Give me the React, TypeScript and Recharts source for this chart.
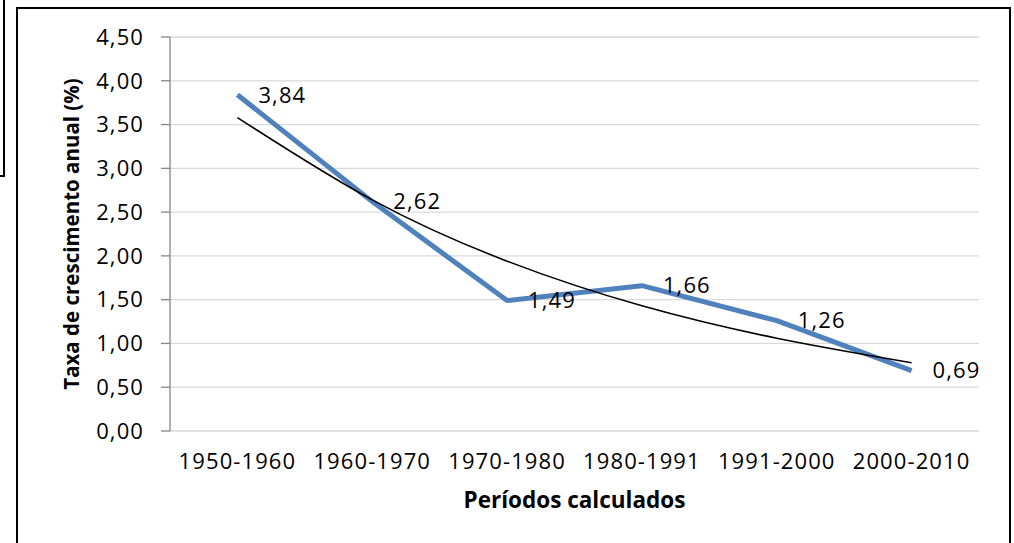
import React from 'react';
import { LineChart, Line, XAxis, YAxis, CartesianGrid, LabelList, Label } from 'recharts';

const periods = ['1950-1960', '1960-1970', '1970-1980', '1980-1991', '1991-2000', '2000-2010'];
const growthRates = [3.84, 2.62, 1.49, 1.66, 1.26, 0.69];
const trendValues = [3.58, 2.64, 1.94, 1.43, 1.06, 0.78];
const yTicks = [0, 0.5, 1, 1.5, 2, 2.5, 3, 3.5, 4, 4.5];
const boundaryTicks = [0, 1, 2, 3, 4, 5, 6];

const data = periods.map((p, i) => ({ period: p, rate: growthRates[i], trend: trendValues[i] }));

const FONT = "'Open Sans', sans-serif";
const fmt = (v: any) => Number(v).toFixed(2).replace('.', ',');
const tickStyle = { fill: '#000', fontFamily: FONT, fontSize: 22, letterSpacing: 1.1 };

export default function App() {
  return (
    <div style={{ position: 'absolute', left: 0, top: 0, width: 1014, height: 543, overflow: 'hidden', background: '#fff' }}>
      <div style={{ position: 'absolute', left: -20, top: -20, width: 25, height: 197, border: '2px solid #000', boxSizing: 'border-box' }} />
      <div style={{ position: 'absolute', left: 16, top: 7, width: 995, height: 600, border: '2px solid #000', boxSizing: 'border-box' }} />
      <div style={{ position: 'absolute', left: 0, top: 0 }}>
        <LineChart width={1014} height={543} data={data} margin={{ top: 37, right: 35, bottom: 31, left: 0 }}>
          <CartesianGrid xAxisId="cat" vertical={false} stroke="#D9D9D9" strokeWidth={1.3} />
          <XAxis
            xAxisId="bounds"
            type="number"
            domain={[0, 6]}
            ticks={boundaryTicks}
            tick={false}
            tickSize={7}
            height={0}
            axisLine={{ stroke: '#868686', strokeWidth: 1.3 }}
            tickLine={{ stroke: '#868686', strokeWidth: 1.3 }}
          />
          <XAxis
            xAxisId="cat"
            dataKey="period"
            scale="band"
            height={81}
            axisLine={false}
            tickLine={false}
            tickSize={0}
            tickMargin={22}
            interval={0}
            tick={tickStyle}
          >
            <Label
              value="Períodos calculados"
              position="bottom"
              offset={-20}
              style={{ fill: '#000', fontFamily: FONT, fontSize: 22.5, fontWeight: 700 }}
            />
          </XAxis>
          <YAxis
            width={170}
            domain={[0, 4.5]}
            ticks={yTicks}
            interval={0}
            tickFormatter={fmt}
            tickSize={9}
            tickMargin={17}
            axisLine={{ stroke: '#868686', strokeWidth: 1.3 }}
            tickLine={{ stroke: '#868686', strokeWidth: 1.3 }}
            tick={tickStyle}
          >
            <Label
              value="Taxa de crescimento anual (%)"
              angle={-90}
              position="insideLeft"
              offset={72}
              style={{ fill: '#000', fontFamily: FONT, fontSize: 20.5, fontWeight: 700, textAnchor: 'middle' }}
            />
          </YAxis>
          <Line
            xAxisId="cat"
            dataKey="rate"
            type="linear"
            stroke="#4F81BD"
            strokeWidth={5}
            strokeLinejoin="round"
            dot={false}
            activeDot={false}
            isAnimationActive={false}
          >
            <LabelList
              dataKey="rate"
              position="right"
              offset={21}
              formatter={fmt}
              style={tickStyle}
            />
          </Line>
          <Line
            xAxisId="cat"
            dataKey="trend"
            type="natural"
            stroke="#000"
            strokeWidth={1.6}
            dot={false}
            activeDot={false}
            isAnimationActive={false}
          />
        </LineChart>
      </div>
    </div>
  );
}
